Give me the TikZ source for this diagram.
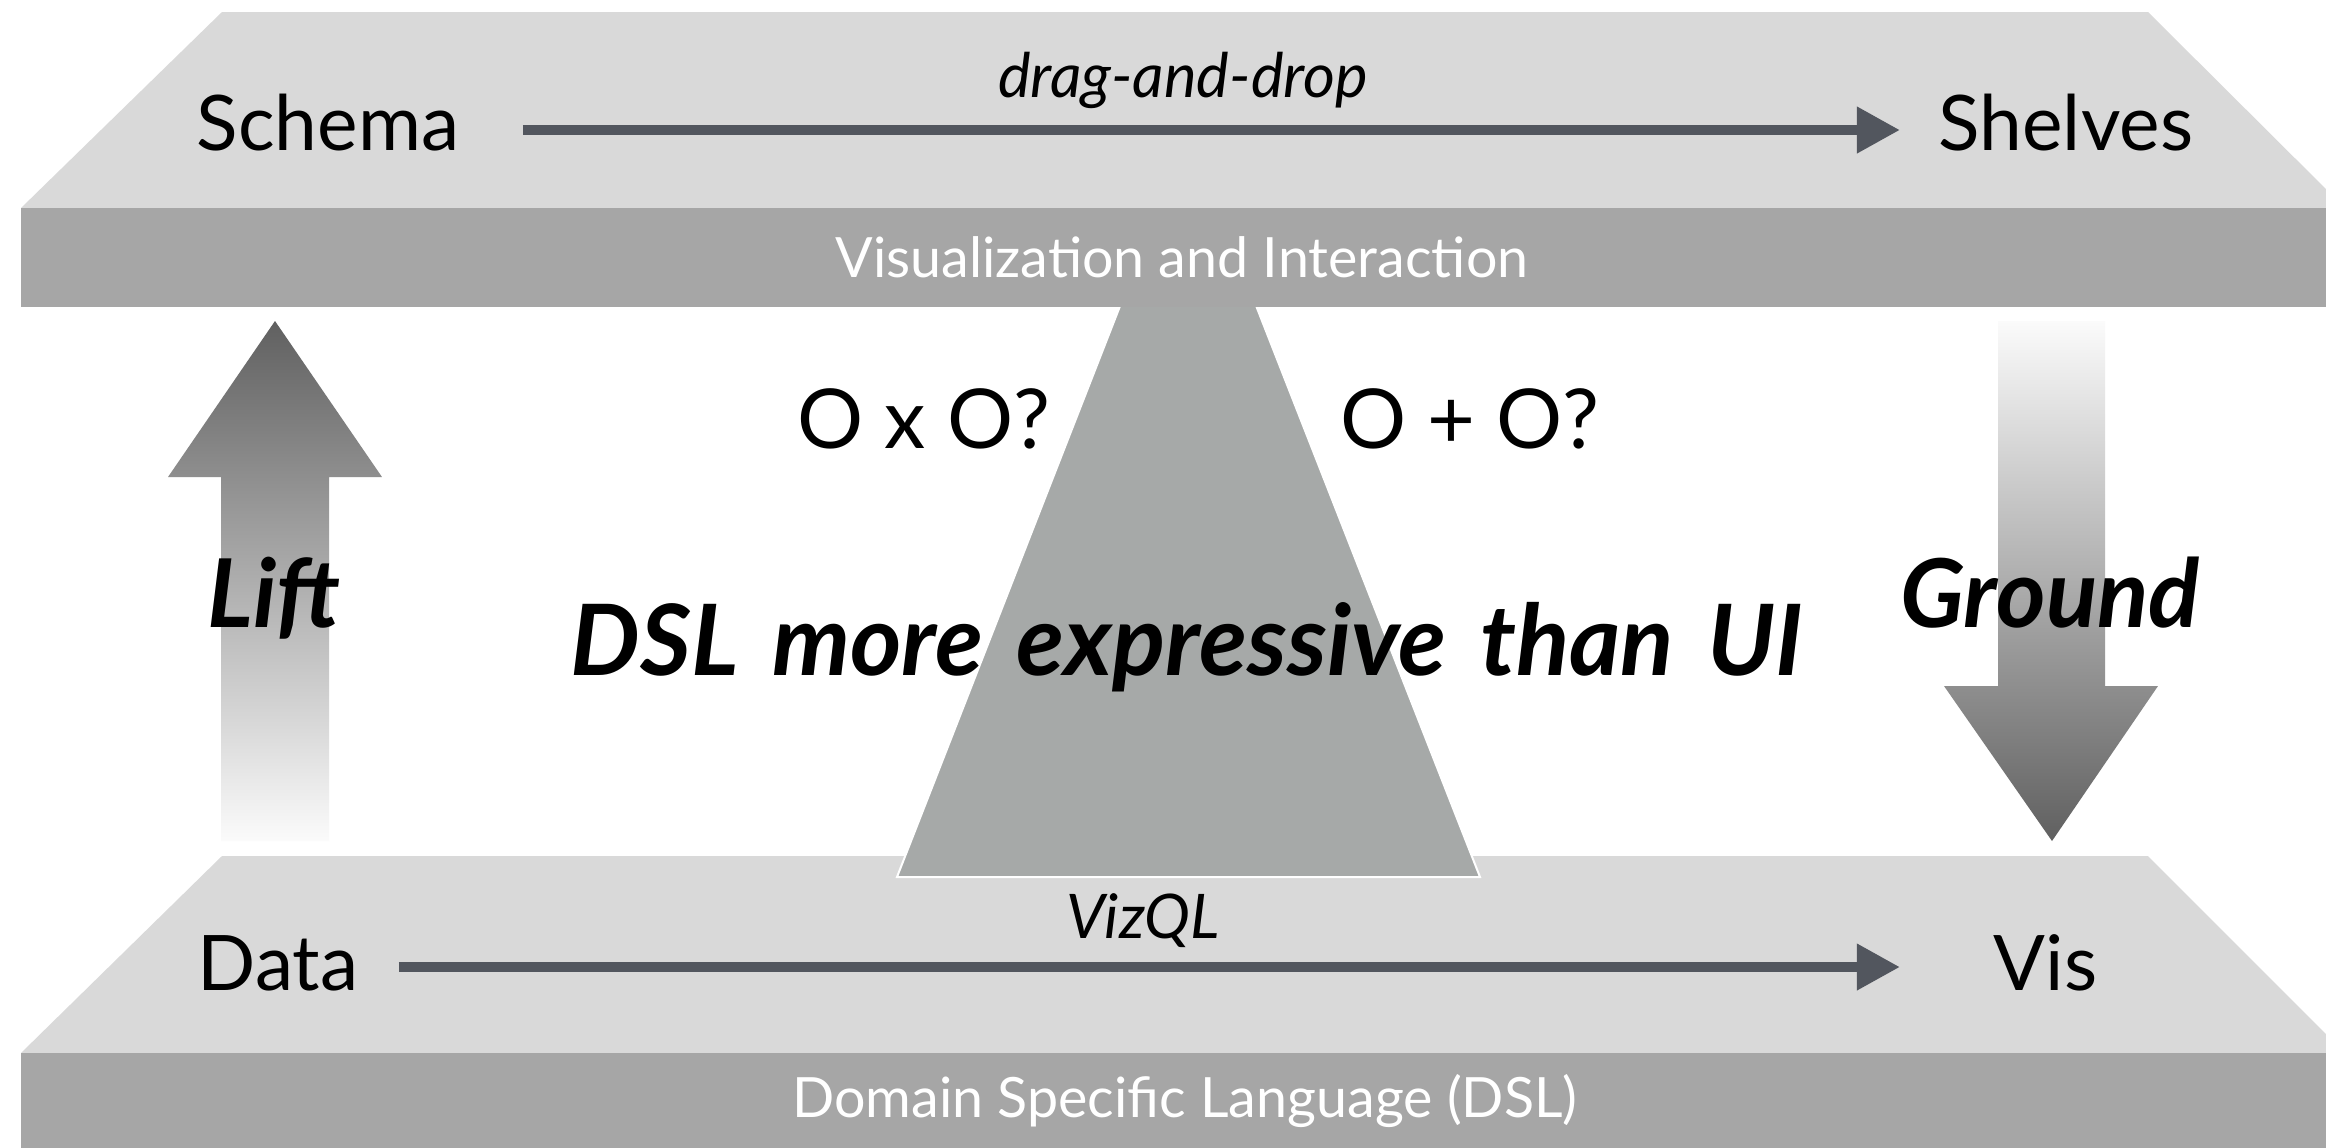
\documentclass[tikz,border=0pt]{standalone}
\usepackage{fontspec}
\setmainfont{Lato}
\usetikzlibrary{arrows.meta}
\definecolor{face}{HTML}{D9D9D9}
\definecolor{band}{HTML}{A6A6A6}
\definecolor{tri}{HTML}{A6A9A8}
\definecolor{arrowc}{HTML}{52565E}
\definecolor{gdark}{HTML}{606060}
\definecolor{glight}{HTML}{FBFBFB}
\begin{document}
\begin{tikzpicture}[x=0.01cm,y=-0.01cm,
  lbl/.style={inner sep=0pt, font=\fontsize{21.8}{26}\selectfont},
  ital/.style={inner sep=0pt, font=\fontsize{17.5}{21}\selectfont\itshape},
  bandtxt/.style={inner sep=0pt, text=white, font=\fontsize{15.8}{19}\selectfont},
  qtxt/.style={inner sep=0pt, font=\fontsize{23.5}{28}\selectfont},
  big/.style={inner sep=0pt, font=\fontsize{27}{32}\selectfont\bfseries\itshape},
  bigger/.style={inner sep=0pt, font=\fontsize{28}{33}\selectfont\bfseries\itshape},
  flow/.style={draw=arrowc, line width=0.1cm, -{Triangle[length=0.43cm,width=0.44cm]}},
  facefill/.style={fill=face},
  bandfill/.style={fill=band},
]
\useasboundingbox (0,0) rectangle (2326,1147);
\clip (0,0) rectangle (2326,1147);
\fill[white] (0,0) rectangle (2326,1147);

% bottom platform
\path[facefill] (222,856) -- (2148,856) -- (2345,1053) -- (21,1053) -- cycle;
\path[bandfill] (21,1053) rectangle (2340,1160);

% triangle
\path[fill=tri, draw=white, line width=0.02cm] (897,877) -- (1188,132) -- (1480,877) -- cycle;

% top platform
\path[facefill] (222,12) -- (2148,12) -- (2345,208) -- (21,208) -- cycle;
\path[bandfill] (21,208) rectangle (2340,307);

% gradient arrows
\shade[top color=gdark, bottom color=glight]
  (275,321) -- (382,477) -- (329,477) -- (329,841) -- (221,841) -- (221,477) -- (168,477) -- cycle;
\shade[top color=glight, bottom color=gdark]
  (1998,321) -- (2105,321) -- (2105,686) -- (2158,686) -- (2052,841) -- (1944,686) -- (1998,686) -- cycle;

% labels
\node[lbl, anchor=base west] (schema) at (196,150) {Schema};
\node[lbl, anchor=base west] (shelves) at (1938,150) {Shelves};
\node[lbl, anchor=base west] (data) at (197,990) {Data};
\node[lbl, anchor=base west] (vis) at (1993,990) {Vis};
\coordinate (ytop) at (0,130);
\coordinate (ybot) at (0,967);
\draw[flow, shorten <=0.63cm, shorten >=0.38cm] (schema.east |- ytop) -- (shelves.west |- ytop);
\draw[flow, shorten <=0.4cm, shorten >=0.93cm] (data.east |- ybot) -- (vis.west |- ybot);

\node[ital, anchor=base] (dnd) at (1183,97) {drag-and-drop};
\node[ital, anchor=base] (vizql) at (1143,938) {VizQL};
\node[bandtxt, anchor=base] (vi) at (1182,277) {Visualization and Interaction};
\node[bandtxt, anchor=base] (dsl) at (1185,1117) {Domain Specific Language (DSL)};
\node[qtxt, anchor=base] (oxo) at (924,448) {O x O?};
\node[qtxt, anchor=base] (opo) at (1470,448) {O + O?};
\node[big, anchor=base] (lift) at (274,627) {Lift};
\node[big, anchor=base] (ground) at (2050,627) {Ground};
\node[bigger, anchor=base] (expr) at (1187,675) {DSL\hspace{0.34em}more\hspace{0.34em}expressive\hspace{0.34em}than\hspace{0.34em}UI};
\end{tikzpicture}
\end{document}
